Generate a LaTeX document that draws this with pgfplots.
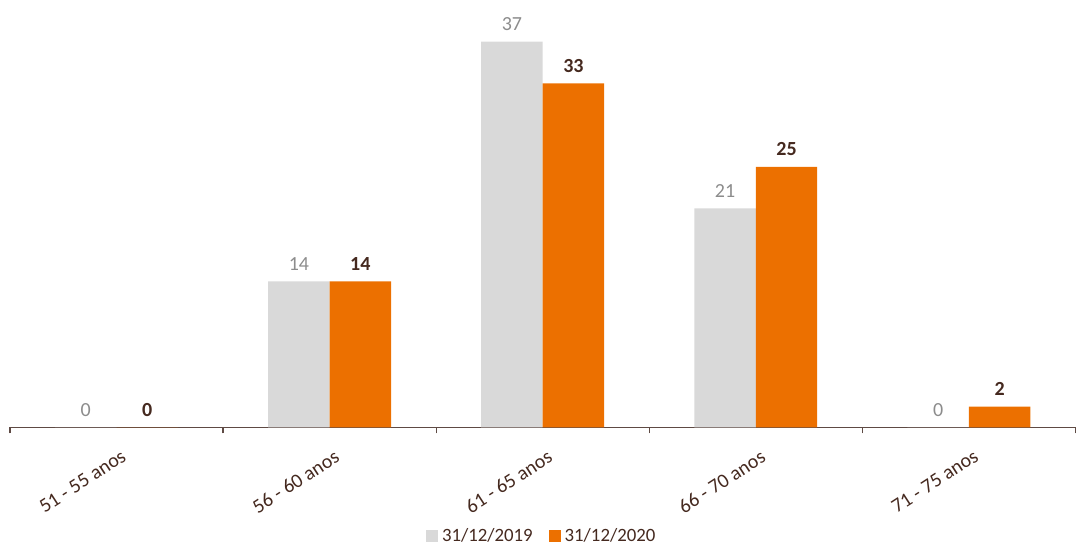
\documentclass[border=0pt]{standalone}
\usepackage{fontspec}
\setmainfont{Carlito}
\usepackage{pgfplots}
\pgfplotsset{compat=1.18}
\definecolor{barGray}{HTML}{D9D9D9}
\definecolor{barOrange}{HTML}{EC7000}
\definecolor{txtBrown}{HTML}{45291F}
\definecolor{lblGray}{HTML}{8C8C8C}
\definecolor{axBrown}{HTML}{5E4A44}
\begin{document}
\begin{tikzpicture}
\begin{axis}[
scale only axis,
width=533pt, height=213.8pt,
xmin=-0.5, xmax=4.5,
ymin=0, ymax=41,
ybar=0pt, bar width=30.75pt,
axis x line*=bottom,
axis y line=none,
axis line style={axBrown, line width=0.6pt},
xtick={0,1,2,3,4},
xticklabels={51 - 55 anos, 56 - 60 anos, 61 - 65 anos, 66 - 70 anos, 71 - 75 anos},
major x tick style={draw=none},
minor xtick={-0.5,0.5,1.5,2.5,3.5,4.5},
minor x tick style={axBrown, line width=0.6pt},
minor tick length=3pt,
tick align=outside,
x tick label style={rotate=33, anchor=north east, font=\fontsize{10}{12}\selectfont, text=txtBrown, xshift=1.5pt, yshift=-3pt},
clip=false,
/pgf/number format/assume math mode=true,
nodes near coords,
nodes near coords style={font=\fontsize{10}{12}\selectfont, yshift=2pt},
legend style={at={(axis description cs:0.5,-0.255)}, anchor=center, draw=none, legend columns=2,
  font=\fontsize{9.4}{11}\selectfont, text=txtBrown,
  /tikz/every even column/.append style={column sep=6pt}},
legend image code/.code={\fill[#1] (0pt,-3pt) rectangle (6pt,3pt);},
]
\addplot[fill=barGray, draw=none, nodes near coords style={text=lblGray}]
  coordinates {(0,0) (1,14) (2,37) (3,21) (4,0)};
\addplot[fill=barOrange, draw=none, nodes near coords style={text=txtBrown, font=\fontsize{10}{12}\selectfont\bfseries}]
  coordinates {(0,0) (1,14) (2,33) (3,25) (4,2)};
\legend{31/12/2019, 31/12/2020}
\end{axis}
\path (current axis.south west) ++(-5pt,0) rectangle (current axis.north east);
\end{tikzpicture}
\end{document}
